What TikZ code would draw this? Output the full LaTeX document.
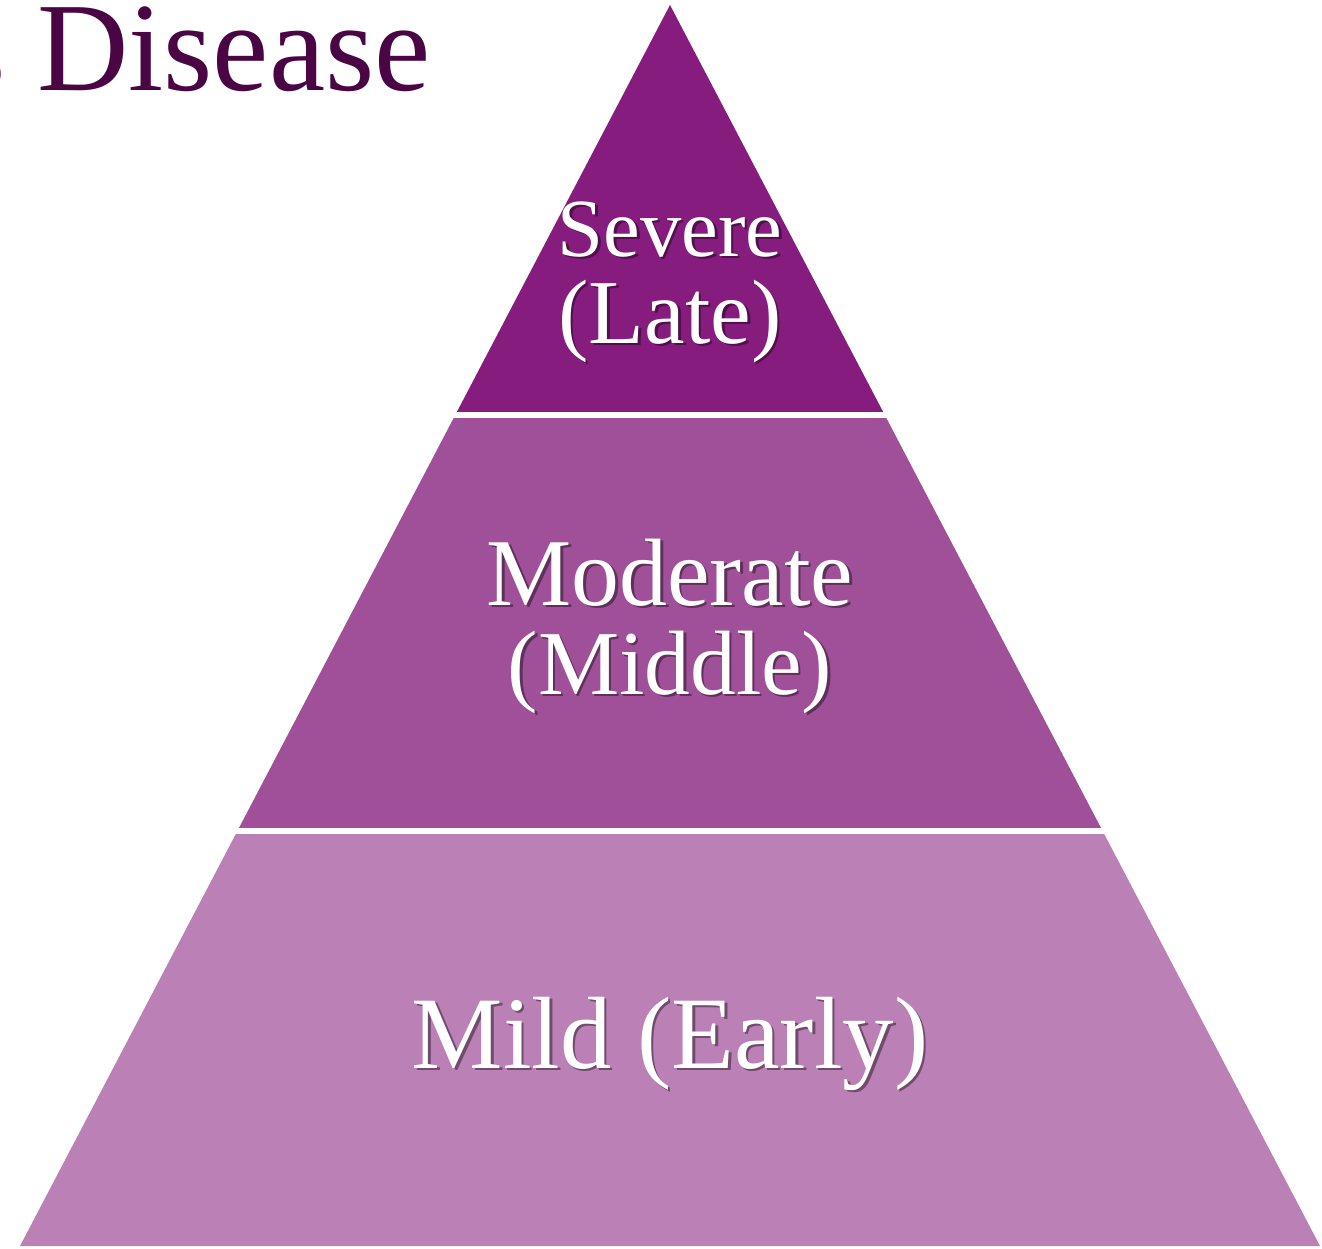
\documentclass[tikz,border=0pt]{standalone}
\usepackage{fontspec}
\setmainfont{Liberation Serif}
\definecolor{topband}{HTML}{861C7D}
\definecolor{midband}{HTML}{9F5098}
\definecolor{lowband}{HTML}{BB80B5}
\definecolor{titlecol}{HTML}{4A0544}
\tikzset{
  lbl/.style={text=white, anchor=base, inner sep=0pt},
  shadowlbl/.style={text=black, opacity=0.4, anchor=base, inner sep=0pt},
}
\newcommand{\shadowtext}[4]{% name, x, y, font+text
  \node[shadowlbl] at (#2+2.5,#3+2.5) {#4};
  \node[lbl] (#1) at (#2,#3) {#4};
}
\begin{document}
\begin{tikzpicture}[x=0.02cm,y=-0.02cm]
\useasboundingbox (0,0) rectangle (1322,1248);
\clip (0,0) rectangle (1322,1248);
\fill[white] (0,0) rectangle (1322,1248);
% title
\node[text=titlecol, anchor=base east, inner sep=0pt, font=\fontsize{72}{80}\selectfont] (title) at (431,90) {s Disease};
% pyramid
\coordinate (apex) at (670,5);
\coordinate (bl) at (20,1246);
\coordinate (br) at (1320,1246);
\begin{scope}
\clip (apex) -- (bl) -- (br) -- cycle;
\fill[topband] (0,0) rectangle (1322,415);
\fill[midband] (0,415) rectangle (1322,831);
\fill[lowband] (0,831) rectangle (1322,1248);
\end{scope}
\draw[white, line width=3pt] (0,415) -- (1322,415);
\draw[white, line width=3pt] (0,831) -- (1322,831);
% labels
\shadowtext{sev}{670}{256}{\fontsize{47}{50}\selectfont Severe}
\shadowtext{late}{670}{343}{\fontsize{52}{55}\selectfont (Late)}
\shadowtext{mod}{670}{605}{\fontsize{54.5}{57}\selectfont Moderate}
\shadowtext{midl}{670}{694}{\fontsize{52}{55}\selectfont (Middle)}
\shadowtext{mild}{670}{1068}{\fontsize{58.5}{60}\selectfont Mild (Early)}
\end{tikzpicture}
\end{document}
